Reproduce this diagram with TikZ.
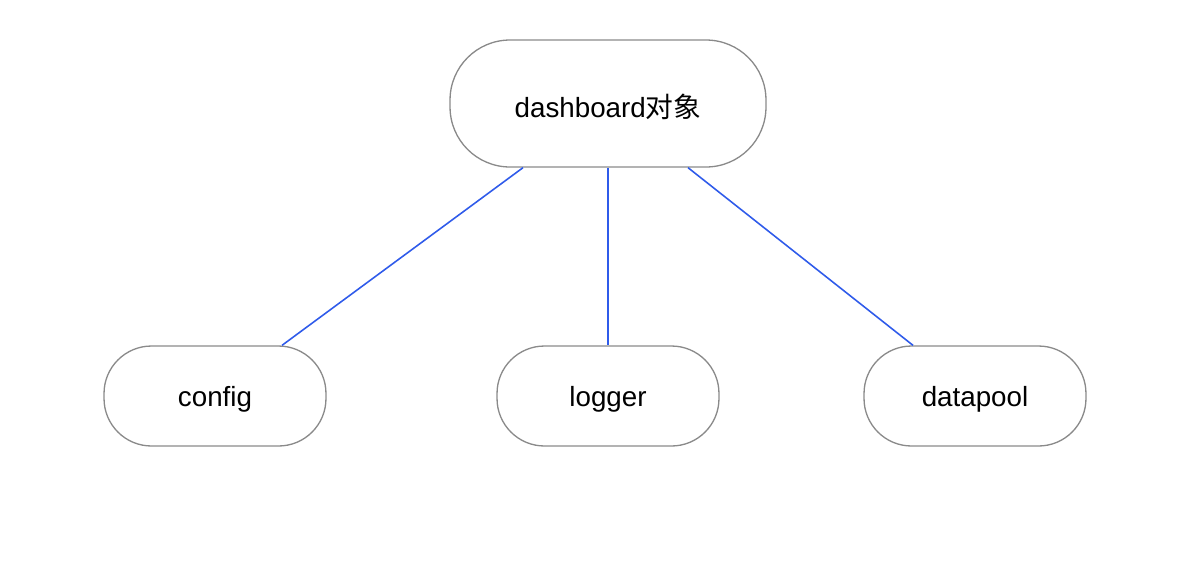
\documentclass[tikz,border=0pt]{standalone}
\usepackage{fontspec}
\setmainfont{Liberation Sans}
\newfontfamily\cjk{Noto Sans CJK SC}
\usepackage{tikz}
\usetikzlibrary{positioning}
\definecolor{linkblue}{HTML}{2F5BEA}
\definecolor{boxgray}{HTML}{8A8A8A}
\newcommand{\lowered}[1]{\raisebox{-2pt}[\height][\depth]{#1}}

\begin{document}
\begin{tikzpicture}[x=0.02cm, y=-0.02cm,
        box/.style={draw=boxgray, line width=0.75pt, rounded corners=0.95cm, minimum width=4.44cm, minimum height=2cm, font=\fontsize{15.8}{18}\selectfont},
        link/.style={draw=linkblue, line width=0.9pt}]
    \useasboundingbox (0,0) rectangle (1200,586); % page frame

    % the top object and its three members
    \node[box, rounded corners=1.2cm, minimum width=6.32cm, minimum height=2.54cm] (dash) at (608,103.5) {\lowered{dashboard{\cjk 对象}}};
    \node[box] (config) at (215,396) {\lowered{config}};
    \node[box] (logger) at (608,396) {\lowered{logger}};
    \node[box] (datapool) at (975,396) {\lowered{datapool}};

    \draw[link] ([xshift=-1.7cm]dash.south) -- ([xshift=1.34cm]config.north); % to config
    \draw[link] (dash.south) -- (logger.north); % to logger
    \draw[link] ([xshift=1.6cm]dash.south) -- ([xshift=-1.24cm]datapool.north); % to datapool
\end{tikzpicture}
\end{document}
